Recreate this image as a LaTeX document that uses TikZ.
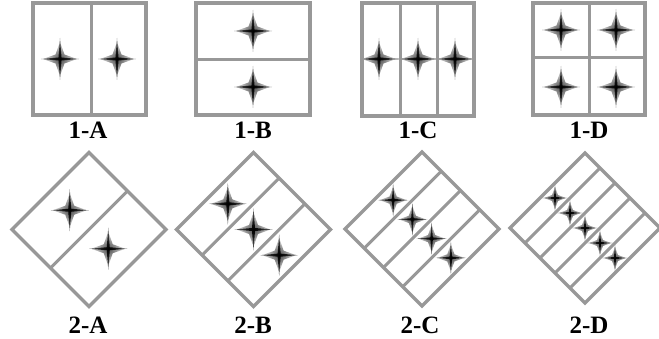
\documentclass[tikz,border=0pt]{standalone}
\usepackage{fontspec}
\setmainfont{Liberation Serif}
\usetikzlibrary{calc}
\definecolor{framegray}{RGB}{152,152,152}
\definecolor{thingray}{RGB}{195,195,195}
\pgfdeclareradialshading{sparkshade}{\pgfpoint{0bp}{0bp}}{color(0bp)=(black); color(8bp)=(black!92); color(25bp)=(black!58); color(50bp)=(black!15)}
\pgfdeclareradialshading{glowshade}{\pgfpoint{0bp}{0bp}}{color(0bp)=(black!70); color(16bp)=(black!30); color(40bp)=(white); color(50bp)=(white)}
\tikzset{
  frame/.style={draw=framegray, line width=3.2pt, line join=miter},
  divider/.style={draw=framegray, line width=3pt},
  faint/.style={draw=thingray, line width=1.2pt},
  lbl/.style={font=\fontsize{25}{25}\selectfont\bfseries, anchor=base, inner sep=0pt},
  spark/.pic={
    \shade[shading=glowshade] (0,-17)--(4.5,-4.5)--(17,0)--(4.5,4.5)--(0,17)--(-4.5,4.5)--(-17,0)--(-4.5,-4.5)--cycle;
    \shade[shading=sparkshade] (0,-21)--(1.5,-1.5)--(19,0)--(1.5,1.5)--(0,21)--(-1.5,1.5)--(-19,0)--(-1.5,-1.5)--cycle;
  }
}
% diamond panel: #1 name, #2 cx, #3 cy, #4 half diagonal, #5 strips, #6 star scale
\newcommand{\dpanel}[6]{%
  \coordinate (#1L) at (#2-#4,#3);
  \coordinate (#1T) at (#2,#3-#4);
  \coordinate (#1R) at (#2+#4,#3);
  \coordinate (#1B) at (#2,#3+#4);
  \pgfmathtruncatemacro{\nlast}{#5-1}
  \foreach \k in {0,...,\nlast}{
    \pgfmathsetmacro{\off}{((\k+0.5)/#5-0.5)*#4}
    \pic[scale=#6] at (#2+\off,#3+\off) {spark};
  }
  \foreach \k in {1,...,\nlast}{
    \draw[divider] ($(#1L)!\k/#5!(#1B)$) -- ($(#1T)!\k/#5!(#1R)$);
  }
  \draw[frame] (#1L) -- (#1T) -- (#1R) -- (#1B) -- cycle;
}
\begin{document}
\begin{tikzpicture}[x=1pt,y=-1pt]
\useasboundingbox (0,0) rectangle (659,339);
% ---------- 1-A ----------
\pic at (60,59) {spark};
\pic at (117,59) {spark};
\draw[frame] (33,3) rectangle (146,115);
\draw[divider] (91,3) -- (91,115);
\node[lbl] (la) at (88,139) {1-A};
% ---------- 1-B ----------
\pic at (253,31) {spark};
\pic at (253,87) {spark};
\draw[frame] (196,3) rectangle (310,115);
\draw[divider] (196,60) -- (310,60);
\node[lbl] (lb) at (253,139) {1-B};
% ---------- 1-C ----------
\draw[faint] (362,59) -- (474,59);
\pic at (379,59) {spark};
\pic at (418,59) {spark};
\pic at (455,59) {spark};
\draw[frame] (362,3) rectangle (474,116);
\draw[divider] (400,3) -- (400,116);
\draw[divider] (437,3) -- (437,116);
\node[lbl] (lc) at (418,139) {1-C};
% ---------- 1-D ----------
\pic at (561,30) {spark};
\pic at (616,30) {spark};
\pic at (561,87) {spark};
\pic at (616,87) {spark};
\draw[frame] (533,3) rectangle (645,115);
\draw[divider] (589,3) -- (589,115);
\draw[divider] (533,58) -- (645,58);
\node[lbl] (ld) at (589,139) {1-D};
% ---------- row 2 ----------
\dpanel{a}{89}{229.5}{77}{2}{1}
\node[lbl] (ma) at (88,333) {2-A};
\dpanel{b}{253.5}{229.5}{77}{3}{1}
\node[lbl] (mb) at (253,333) {2-B};
\dpanel{c}{422}{229}{77}{4}{0.8}
\node[lbl] (mc) at (420,333) {2-C};
\dpanel{d}{585}{228}{75}{5}{0.66}
\node[lbl] (md) at (589,333) {2-D};
\end{tikzpicture}
\end{document}
